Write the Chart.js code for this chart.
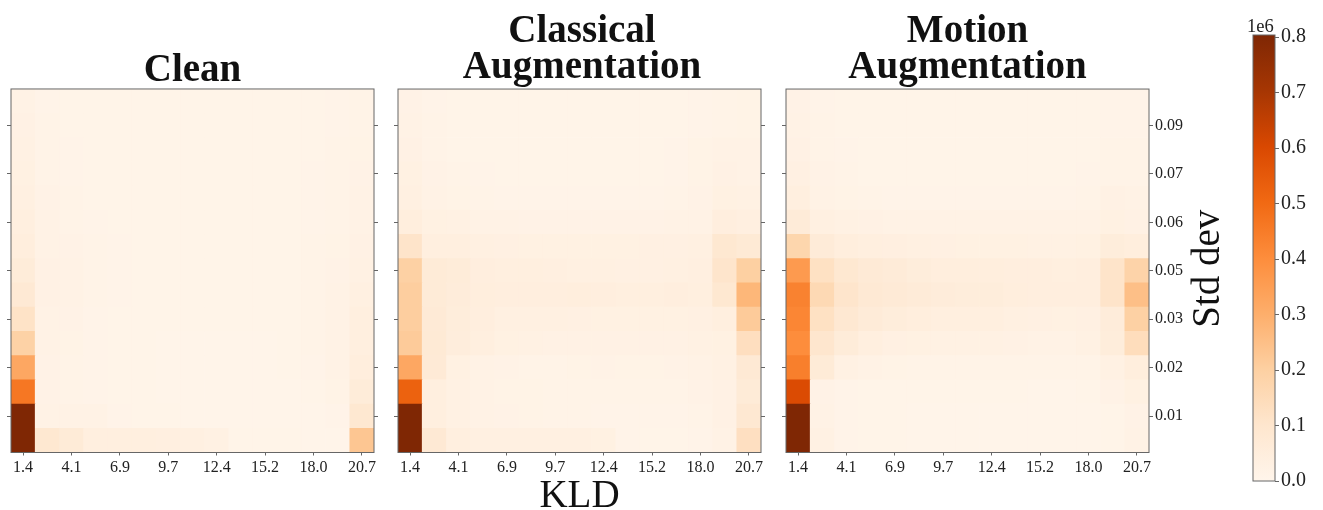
<!DOCTYPE html>
<html>
<head>
<meta charset="utf-8">
<script src="https://cdn.jsdelivr.net/npm/chart.js@4"></script>
<style>
  html, body { margin: 0; padding: 0; background: #fff; overflow: hidden; }
  canvas { position: absolute; top: 0; filter: blur(0.4px); }
</style>
</head>
<body>
<canvas id="clean" width="385" height="510" style="left:0"></canvas>
<canvas id="classical" width="390" height="510" style="left:387px"></canvas>
<canvas id="motion" width="455" height="510" style="left:775px"></canvas>
<canvas id="bar" width="93" height="510" style="left:1230px"></canvas>
<script>
// KLD bins, left to right
const kldBins = ["1.4", "2.8", "4.1", "5.5", "6.9", "8.3", "9.7", "11.0", "12.4", "13.8", "15.2", "16.6", "18.0", "19.4", "20.7"];
// std dev ticks sit on every other row, counted from the bottom
const stdTickRows = [1.5, 3.5, 5.5, 7.5, 9.5, 11.5, 13.5];
const stdTickLabels = ["0.01", "0.02", "0.03", "0.05", "0.06", "0.07", "0.09"];
const barTicks = [0, 0.1, 0.2, 0.3, 0.4, 0.5, 0.6, 0.7, 0.8];
const barMax = 0.804;

// counts in thousands, top row first
const cleanGrid = [
  [22, 12, 10, 9, 9, 9, 9, 9, 9, 9, 9, 9, 9, 12, 15],
  [24, 13, 10, 9, 9, 9, 9, 9, 9, 9, 9, 9, 9, 12, 15],
  [26, 14, 11, 10, 9, 9, 9, 9, 9, 9, 9, 9, 10, 13, 16],
  [30, 15, 12, 10, 9, 9, 9, 9, 9, 9, 9, 9, 11, 13, 17],
  [35, 17, 13, 10, 9, 9, 9, 9, 9, 9, 9, 9, 12, 14, 19],
  [42, 19, 15, 11, 10, 9, 9, 9, 9, 9, 9, 9, 12, 15, 21],
  [50, 22, 17, 13, 11, 9, 9, 9, 9, 9, 9, 10, 13, 16, 24],
  [62, 24, 20, 14, 11, 10, 9, 9, 9, 9, 9, 10, 14, 18, 28],
  [78, 24, 20, 13, 11, 10, 9, 9, 9, 9, 9, 10, 14, 20, 34],
  [115, 20, 17, 12, 10, 9, 9, 9, 9, 9, 9, 10, 13, 20, 40],
  [190, 20, 16, 11, 10, 9, 8, 8, 8, 8, 8, 9, 13, 20, 42],
  [320, 18, 13, 11, 10, 9, 8, 8, 8, 8, 8, 9, 12, 19, 48],
  [460, 18, 13, 11, 10, 9, 8, 8, 8, 8, 8, 8, 10, 16, 62],
  [800, 20, 22, 22, 12, 9, 9, 8, 8, 8, 8, 8, 8, 12, 90],
  [800, 88, 68, 42, 42, 40, 38, 36, 28, 10, 9, 9, 8, 8, 230],
];
const classicalGrid = [
  [18, 12, 9, 9, 9, 9, 9, 9, 9, 9, 9, 10, 12, 15, 16],
  [20, 13, 10, 9, 9, 9, 9, 9, 9, 9, 9, 10, 12, 15, 16],
  [24, 15, 10, 10, 10, 10, 10, 10, 10, 10, 10, 12, 16, 20, 20],
  [30, 18, 13, 11, 10, 10, 10, 10, 10, 10, 10, 12, 16, 24, 22],
  [35, 22, 16, 13, 12, 11, 11, 11, 11, 11, 12, 14, 18, 30, 26],
  [48, 30, 26, 22, 20, 18, 18, 18, 18, 18, 18, 20, 22, 45, 38],
  [110, 42, 40, 36, 32, 30, 30, 30, 30, 30, 32, 32, 36, 90, 75],
  [195, 68, 62, 46, 40, 40, 38, 36, 36, 32, 32, 36, 38, 105, 200],
  [205, 70, 58, 48, 46, 46, 46, 48, 44, 40, 42, 44, 42, 90, 275],
  [205, 72, 55, 46, 36, 35, 34, 32, 30, 30, 30, 30, 32, 42, 215],
  [215, 75, 52, 42, 30, 26, 24, 24, 24, 24, 24, 24, 26, 30, 135],
  [320, 72, 30, 22, 18, 15, 15, 16, 18, 16, 16, 18, 20, 26, 80],
  [520, 40, 28, 20, 16, 16, 15, 15, 14, 14, 14, 14, 18, 25, 70],
  [800, 40, 28, 22, 18, 16, 15, 14, 12, 12, 12, 12, 15, 25, 85],
  [800, 80, 40, 35, 35, 34, 34, 34, 30, 12, 10, 10, 12, 20, 130],
];
const motionGrid = [
  [18, 12, 10, 9, 9, 9, 9, 9, 9, 9, 9, 9, 10, 12, 12],
  [20, 13, 10, 9, 9, 9, 9, 9, 9, 9, 9, 9, 10, 12, 12],
  [24, 15, 11, 10, 9, 9, 9, 9, 9, 9, 9, 9, 10, 13, 13],
  [32, 18, 13, 10, 10, 10, 10, 10, 10, 10, 10, 10, 12, 15, 15],
  [42, 22, 16, 14, 12, 12, 12, 12, 12, 12, 12, 12, 14, 24, 20],
  [65, 35, 28, 24, 22, 20, 20, 20, 20, 20, 20, 20, 22, 30, 25],
  [175, 65, 50, 40, 38, 36, 32, 30, 30, 30, 28, 28, 30, 55, 50],
  [360, 125, 90, 72, 66, 56, 50, 48, 48, 46, 44, 40, 46, 110, 185],
  [430, 160, 105, 78, 72, 66, 58, 56, 56, 48, 46, 44, 46, 110, 250],
  [420, 125, 85, 66, 55, 48, 42, 40, 40, 34, 32, 30, 32, 60, 195],
  [400, 100, 62, 42, 32, 30, 28, 26, 26, 24, 22, 22, 26, 55, 140],
  [440, 70, 28, 20, 16, 15, 14, 14, 14, 14, 14, 14, 15, 28, 50],
  [590, 18, 12, 10, 9, 9, 9, 9, 9, 9, 8, 8, 10, 18, 30],
  [800, 20, 12, 10, 9, 8, 8, 8, 8, 8, 8, 8, 8, 10, 18],
  [800, 28, 12, 10, 9, 8, 8, 8, 8, 8, 8, 8, 8, 10, 20],
];

// matplotlib Oranges
const oranges = ["#fff5eb", "#fee6ce", "#fdd0a2", "#fdae6b", "#fd8d3c", "#f16913", "#d94801", "#a63603", "#7f2704"];

const serif = "'Liberation Serif', serif";
const tickGray = "#666";
const textDark = "#222";

function hexToRgb(hex) {
  return [1, 3, 5].map((i) => parseInt(hex.slice(i, i + 2), 16));
}

function orangeFor(t) {
  const pos = Math.min(Math.max(t, 0), 1) * (oranges.length - 1);
  const i = Math.min(Math.floor(pos), oranges.length - 2);
  const a = hexToRgb(oranges[i]);
  const b = hexToRgb(oranges[i + 1]);
  const mix = a.map((v, k) => Math.round(v + (b[k] - v) * (pos - i)));
  return `rgb(${mix[0]}, ${mix[1]}, ${mix[2]})`;
}

// spines
const frame = {
  id: "frame",
  afterDraw(chart) {
    const { ctx, chartArea: a } = chart;
    ctx.save();
    ctx.strokeStyle = tickGray;
    ctx.lineWidth = 1;
    ctx.strokeRect(a.left, a.top, a.right - a.left, a.bottom - a.top);
    ctx.restore();
  },
};

const stdDevLabel = {
  id: "stdDevLabel",
  afterDraw(chart) {
    const { ctx, chartArea: a } = chart;
    ctx.save();
    ctx.translate(a.right + 70, (a.top + a.bottom) / 2 - 2);
    ctx.rotate(-Math.PI / 2);
    ctx.font = `39px ${serif}`;
    ctx.fillStyle = "#111";
    ctx.textAlign = "center";
    ctx.fillText("Std dev", 0, 0);
    ctx.restore();
  },
};

const barExponent = {
  id: "barExponent",
  afterDraw(chart) {
    const { ctx, chartArea: a } = chart;
    ctx.save();
    ctx.font = `18.5px ${serif}`;
    ctx.fillStyle = textDark;
    ctx.fillText("1e6", a.left - 6, a.top - 3);
    ctx.restore();
  },
};

function stdTicks(axis) {
  axis.ticks = stdTickRows.map((value) => ({ value }));
}

function heatmap(id, grid, titleLines, showStd, showKld) {
  const rowsFromBottom = grid.slice().reverse();
  const datasets = rowsFromBottom.map((row) => ({
    data: row.map(() => 1),
    backgroundColor: row.map((v) => orangeFor(v / 800)),
    borderWidth: 0,
    barPercentage: 1,
    categoryPercentage: 1,
  }));
  return new Chart(document.getElementById(id), {
    type: "bar",
    data: { labels: kldBins, datasets },
    plugins: showStd ? [frame, stdDevLabel] : [frame],
    options: {
      responsive: false,
      animation: false,
      events: [],
      layout: { padding: 0 },
      plugins: {
        legend: { display: false },
        tooltip: { enabled: false },
        title: {
          display: true,
          fullSize: id === "classical",
          text: titleLines,
          color: "#111",
          font: { family: serif, size: 39, weight: "bold", lineHeight: 0.93 },
          padding: titleLines.length > 1 ? { top: 14, bottom: 2.5 } : { top: 52.7, bottom: 0 },
        },
      },
      scales: {
        x: {
          stacked: true,
          offset: true,
          afterBuildTicks: (axis) => {
            axis.ticks = axis.ticks.filter((t, i) => i % 2 === 0);
          },
          afterFit: (axis) => {
            axis.height = 57.5;
          },
          grid: { drawOnChartArea: false, offset: false, tickLength: 3, tickColor: tickGray, tickWidth: 1 },
          border: { display: false },
          ticks: { autoSkip: false, maxRotation: 0, padding: 3, color: textDark, font: { family: serif, size: 16 } },
          title: showKld
            ? { display: true, text: "KLD", color: "#111", font: { family: serif, size: 39, lineHeight: 0.7 }, padding: { top: 0, bottom: 0 } }
            : { display: false },
        },
        y: {
          stacked: true,
          min: 0,
          max: 15,
          afterBuildTicks: stdTicks,
          afterFit: (axis) => {
            axis.width = 11;
          },
          grid: { drawOnChartArea: false, tickLength: 4, tickColor: tickGray, tickWidth: 1 },
          border: { display: false },
          ticks: { display: false },
        },
        yRight: {
          position: "right",
          min: 0,
          max: 15,
          afterBuildTicks: stdTicks,
          afterFit: (axis) => {
            axis.width = showStd ? 81 : id === "classical" ? 16 : 11;
          },
          grid: { drawOnChartArea: false, tickLength: 4, tickColor: tickGray, tickWidth: 1 },
          border: { display: false },
          ticks: {
            display: showStd,
            padding: 2,
            color: textDark,
            font: { family: serif, size: 16 },
            callback: (v) => stdTickLabels[stdTickRows.indexOf(v)],
          },
        },
      },
    },
  });
}

heatmap("clean", cleanGrid, ["Clean"], false, false);
heatmap("classical", classicalGrid, ["Classical", "Augmentation"], false, true);
heatmap("motion", motionGrid, ["Motion", "Augmentation"], true, false);

// colorbar
new Chart(document.getElementById("bar"), {
  type: "bar",
  data: {
    labels: [""],
    datasets: [
      {
        data: [[0, barMax]],
        borderWidth: 0,
        barPercentage: 1,
        categoryPercentage: 1,
        backgroundColor: (c) => {
          const a = c.chart.chartArea;
          if (!a) return oranges[0];
          const g = c.chart.ctx.createLinearGradient(0, a.bottom, 0, a.top);
          oranges.forEach((col, i) => g.addColorStop(i / (oranges.length - 1), col));
          return g;
        },
      },
    ],
  },
  plugins: [frame, barExponent],
  options: {
    responsive: false,
    animation: false,
    events: [],
    layout: { padding: { left: 23, top: 35, bottom: 29 } },
    plugins: { legend: { display: false }, tooltip: { enabled: false } },
    scales: {
      x: { display: false },
      y: {
        position: "right",
        min: 0,
        max: barMax,
        afterBuildTicks: (axis) => {
          axis.ticks = barTicks.map((value) => ({ value }));
        },
        afterFit: (axis) => {
          axis.width = 48;
        },
        grid: { drawOnChartArea: false, tickLength: 4, tickColor: tickGray, tickWidth: 1 },
        border: { display: false },
        ticks: { padding: 2, color: textDark, font: { family: serif, size: 20 }, callback: (v) => v.toFixed(1) },
      },
    },
  },
});
</script>
</body>
</html>
